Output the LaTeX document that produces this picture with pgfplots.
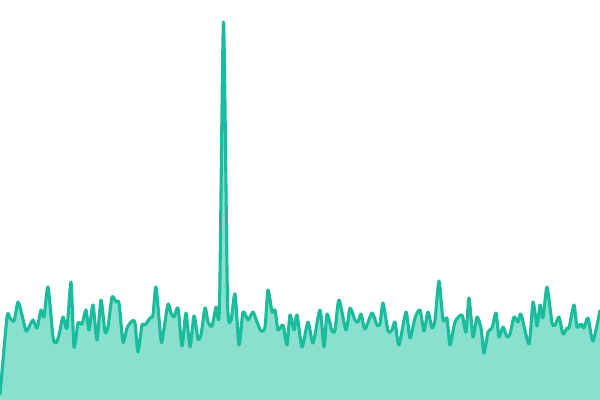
\documentclass[border=0pt]{standalone}
\usepackage{pgfplots}
\pgfplotsset{compat=1.18}
\usepackage{pgfplotstable}
\definecolor{teal1}{RGB}{26,188,156}
\definecolor{teal2}{RGB}{138,224,207}
\pgfplotstableread{
x y
0 5
7 83
10 82
14 79
18 98
22 85
26 69
29 73
33 80
37 72
41 90
44 83
48 113
53 63
56 57
59 65
63 83
67 72
71 118
74 53
78 77
82 76
86 90
89 70
93 95
97 60
101 100
105 68
108 73
112 103
116 98
119 97
123 58
127 72
132 79
135 77
138 48
142 75
145 75
150 82
153 85
156 113
161 59
163 65
168 96
171 87
174 83
178 92
182 54
186 87
190 53
194 84
198 61
201 65
205 92
208 78
212 74
216 93
219.5 94
223.5 378
227.5 100
231 80
235 106
239 55
243 88
248 80
253 88
257 78
261 69
265 73
268 110
272 88
275 90
278 70
283 75
287 55
290 85
294 70
297 85
302 53
308 78
313 57
320 90
324 53
327 86
332 69
335 70
339 100
346 70
350 92
355 80
358 78
361 86
365 71
372 87
377 75
380 76
383 97
388 69
392 70
395 78
399 55
406 88
410 62
415 82
420 90
424 69
428 88
432 72
435 80
439 119
443 80
447 82
450 55
455 78
462 85
466 68
469 102
473 63
477 83
481 72
484 47
488 68
492 72
496 87
499 63
503 73
507 63
510 66
514 83
518 78
521 86
529 56
533 98
537 74
540 95
543 82
547 113
552 77
555 75
559 83
563 66
567 72
569 72
574 95
577 73
581 76
584 72
588 82
593 59
600 90
}\datatab
\begin{document}
\begin{tikzpicture}
\begin{axis}[
  width=600bp, height=400bp, scale only axis,
  xmin=0, xmax=600, ymin=0, ymax=400,
  hide axis, anchor=south west, at={(0,0)},
]
\addplot[draw=none, fill=teal2, smooth, tension=0.4] table[x=x,y=y]{\datatab} \closedcycle;
\addplot[draw=teal1, line width=3.1bp, smooth, tension=0.4, line join=round] table[x=x,y=y]{\datatab};
\end{axis}
\pgfresetboundingbox
\path[use as bounding box] (0,0) rectangle (600bp,400bp);
\end{tikzpicture}
\end{document}
